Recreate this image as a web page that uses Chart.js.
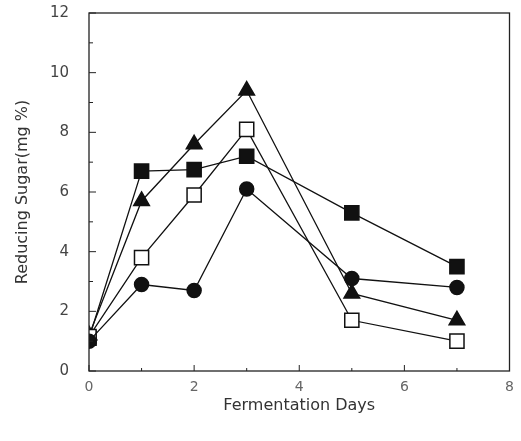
<!DOCTYPE html>
<html>
<head>
<meta charset="utf-8">
<script src="https://cdn.jsdelivr.net/npm/chart.js@4/dist/chart.umd.min.js"></script>
<style>
  html, body { margin: 0; padding: 0; background: #fff; }
  #wrap { width: 521px; height: 441px; }
</style>
</head>
<body>
<div id="wrap"><canvas id="c" width="521" height="441"></canvas></div>
<script>
// zile de fermentare si valorile
const days = [0, 1, 2, 3, 5, 7];
const filledSquare = [1.1, 6.7, 6.75, 7.2, 5.3, 3.5];
const filledTriangle = [1.2, 5.7, 7.6, 9.4, 2.6, 1.7];
const openSquare = [1.15, 3.8, 5.9, 8.1, 1.7, 1.0];
const filledCircle = [1.0, 2.9, 2.7, 6.1, 3.1, 2.8];

const xTicks = [0, 2, 4, 6, 8];
const yTicks = [0, 2, 4, 6, 8, 10, 12];

function toPoints(values) {
    return days.map((d, i) => ({ x: d, y: values[i] }));
}

function series(values, style, radius, fill) {
    return {
        data: toPoints(values),
        showLine: true,
        borderColor: '#111',
        borderWidth: 1.3,
        pointStyle: style,
        pointRadius: radius,
        pointBackgroundColor: fill,
        pointBorderColor: '#111',
        pointBorderWidth: 1.5,
        tension: 0
    };
}

// cadru + gradatii interioare
const frameTicks = {
    id: 'frameTicks',
    afterDraw(chart) {
        const { ctx, chartArea: a, scales } = chart;
        ctx.save();
        ctx.strokeStyle = '#222';
        ctx.lineWidth = 1.3;
        ctx.strokeRect(a.left, a.top, a.right - a.left, a.bottom - a.top);
        ctx.lineWidth = 1;
        for (let v = 0; v <= 12; v++) {
            const y = scales.y.getPixelForValue(v);
            const len = v % 2 === 0 ? 7 : 4;
            ctx.beginPath();
            ctx.moveTo(a.left, y);
            ctx.lineTo(a.left + len, y);
            ctx.stroke();
        }
        for (let v = 0; v <= 8; v++) {
            const x = scales.x.getPixelForValue(v);
            const len = v % 2 === 0 ? 6 : 3;
            ctx.beginPath();
            ctx.moveTo(x, a.bottom);
            ctx.lineTo(x, a.bottom - len);
            ctx.stroke();
        }
        ctx.restore();
    }
};

new Chart(document.getElementById('c'), {
    type: 'scatter',
    data: {
        datasets: [
            series(filledCircle, 'circle', 7, '#111'),
            series(openSquare, 'rect', 10, '#fff'),
            series(filledTriangle, 'triangle', 9, '#111'),
            series(filledSquare, 'rect', 10, '#111')
        ]
    },
    options: {
        responsive: false,
        animation: false,
        layout: { padding: { top: 0, right: 10, left: 0, bottom: 0 } },
        plugins: {
            legend: { display: false },
            tooltip: { enabled: false }
        },
        scales: {
            x: {
                type: 'linear',
                min: 0,
                max: 8,
                afterFit: s => { s.height = 70; },
                afterBuildTicks: s => { s.ticks = xTicks.map(v => ({ value: v })); },
                grid: { display: false },
                border: { display: false },
                ticks: {
                    color: '#666',
                    padding: 0,
                    font: { family: 'DejaVu Sans', size: 14 }
                },
                title: {
                    display: true,
                    text: 'Fermentation Days',
                    color: '#333',
                    padding: { top: 0, bottom: 26 },
                    font: { family: 'DejaVu Sans', size: 16 }
                }
            },
            y: {
                type: 'linear',
                min: 0,
                max: 12,
                afterFit: s => { s.width = 89; s.paddingTop = 13; },
                afterBuildTicks: s => { s.ticks = yTicks.map(v => ({ value: v })); },
                grid: { display: false },
                border: { display: false },
                ticks: {
                    color: '#444',
                    padding: 12,
                    font: { family: 'DejaVu Sans', size: 15 }
                },
                title: {
                    display: true,
                    text: 'Reducing Sugar(mg %)',
                    color: '#333',
                    padding: { top: 13, bottom: 0 },
                    font: { family: 'DejaVu Sans', size: 16 }
                }
            }
        }
    },
    plugins: [frameTicks]
});
</script>
</body>
</html>
